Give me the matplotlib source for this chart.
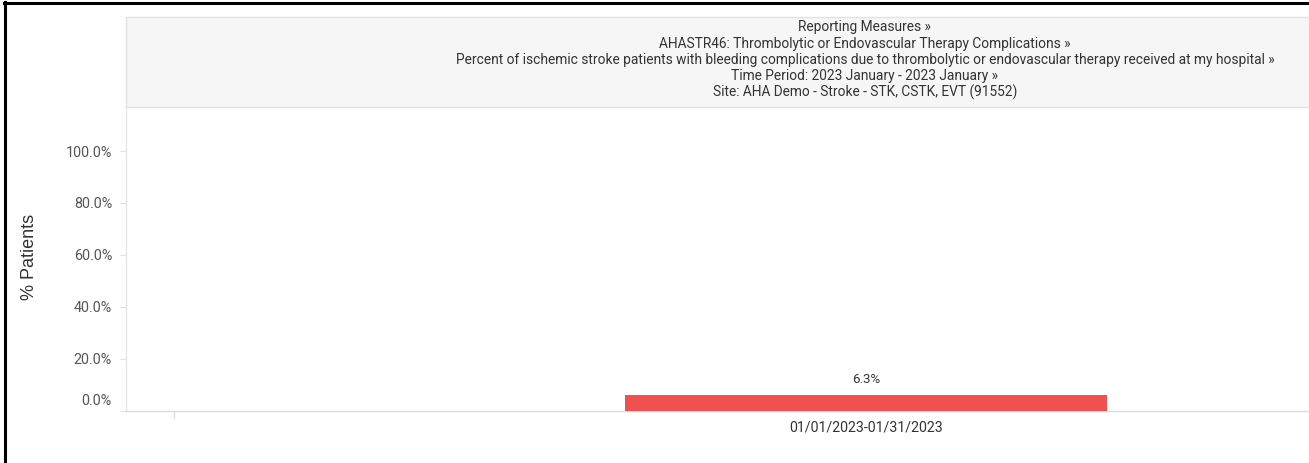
import matplotlib
matplotlib.use("Agg")
import matplotlib.pyplot as plt
from matplotlib.patches import Rectangle
from matplotlib.lines import Line2D

plt.rcParams['font.family'] = ['Roboto', 'DejaVu Sans']

categories = ["01/01/2023-01/31/2023"]
values = [6.3]
value_labels = ["6.3%"]
yticks = [0, 20, 40, 60, 80, 100]
ytick_labels = ["0.0%", "20.0%", "40.0%", "60.0%", "80.0%", "100.0%"]
header_lines = [
    "Reporting Measures \u00bb",
    "AHASTR46: Thrombolytic or Endovascular Therapy Complications \u00bb",
    "Percent of ischemic stroke patients with bleeding complications due to thrombolytic or endovascular therapy received at my hospital \u00bb",
    "Time Period: 2023 January - 2023 January \u00bb",
    "Site: AHA Demo - Stroke - STK, CSTK, EVT (91552)",
]
y_title = "% Patients"

W, H = 1309, 463
fig = plt.figure(figsize=(W / 100, H / 100), dpi=100)

def fx(px):
    return px / W

def fy(py):
    return 1 - py / H

# outer frame (left and top)
fig.add_artist(Line2D([fx(5), fx(5)], [0, fy(2)], color='black', lw=2.2))
fig.add_artist(Line2D([fx(4), 1], [fy(2.5), fy(2.5)], color='black', lw=2.2))

# header panel
fig.add_artist(Rectangle((fx(126), fy(107)), 1.0, fy(17) - fy(107),
                         facecolor='#f6f6f6', edgecolor='#e2e2e2', lw=1.0))
ys = [27, 44, 60, 76, 92]
for line, yy in zip(header_lines, ys):
    fig.text(fx(865), fy(yy), line, ha='center', va='center', fontsize=9.9, color='#333333')

# axes
ax_left, ax_right, ax_top, ax_bottom = 126, 1309, 107, 411
ax = fig.add_axes([fx(ax_left), fy(ax_bottom), fx(ax_right - ax_left), (ax_bottom - ax_top) / H])

x = list(range(len(categories)))
band = 1384.0
center_px = 866
ax.set_xlim((ax_left - center_px) / band, (ax_right - center_px) / band)
ymax = (ax_bottom - ax_top) / 260 * 100
ax.set_ylim(0, ymax)

bars = ax.bar(x, values, width=482 / band, color='#ef5050', edgecolor='none', zorder=3)
for xi, v, lab in zip(x, values, value_labels):
    ax.annotate(lab, (xi, v), xytext=(0, 6), textcoords='offset points',
                ha='center', va='bottom', fontsize=9.6, color='#333333')

# y axis
ax.set_yticks(yticks)
ax.set_yticklabels(["" if t == 0 else l for t, l in zip(yticks, ytick_labels)],
                   fontsize=10.4, color='#555555')
ax.tick_params(axis='y', length=4, width=0.8, color='#e0e0e0', pad=6)
ax.annotate(ytick_labels[0], (0, 0), xycoords=('axes fraction', 'data'),
            xytext=(-10.5, 7), textcoords='offset points', ha='right', va='center',
            fontsize=10.4, color='#555555')

# x axis
ax.set_xticks(x)
ax.set_xticklabels(categories, fontsize=10.2, color='#333333')
ax.tick_params(axis='x', which='major', length=0, pad=7)
ax.set_xticks([-0.5], minor=True)
ax.tick_params(axis='x', which='minor', length=6, width=1, color='#e0e0e0')

for s in ['top', 'right']:
    ax.spines[s].set_visible(False)
ax.spines['left'].set_color('#e6e6e6')
ax.spines['bottom'].set_color('#dddddd')
ax.spines['left'].set_linewidth(1)
ax.spines['bottom'].set_linewidth(1)

fig.text(fx(30), fy(257), y_title, rotation=90, ha='center', va='center',
         fontsize=13, color='#333333', family=['Liberation Sans', 'DejaVu Sans'])

fig.savefig('out.png', dpi=100)
